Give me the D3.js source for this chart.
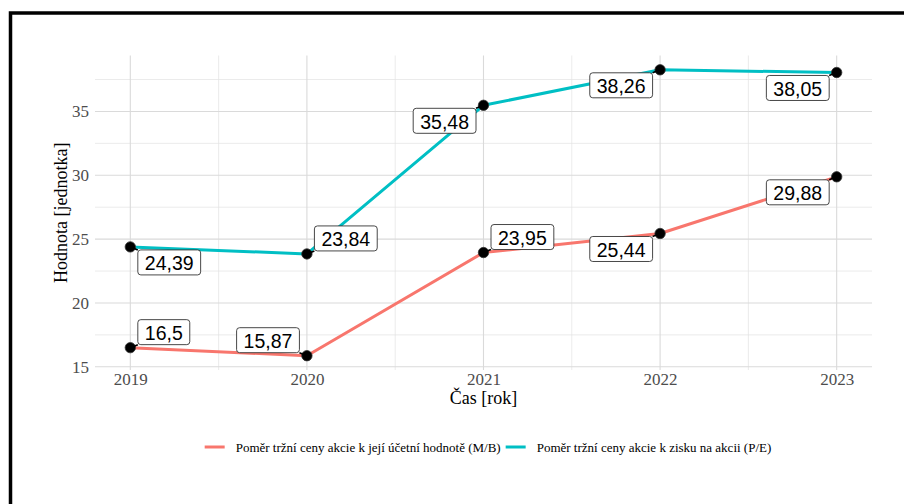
<!DOCTYPE html>
<html>
<head>
<meta charset="utf-8">
<script src="https://cdn.jsdelivr.net/npm/d3@7"></script>
<style>
  html, body { margin: 0; padding: 0; background: #fff; }
  svg { display: block; }
</style>
</head>
<body>
<svg id="chart" width="904" height="504"></svg>
<script>
// ---- data ----
const years = [2019, 2020, 2021, 2022, 2023];
const mbValues = [16.5, 15.87, 23.95, 25.44, 29.88];
const peValues = [24.39, 23.84, 35.48, 38.26, 38.05];
const seriesNames = [
  "Poměr tržní ceny akcie k její účetní hodnotě (M/B)",
  "Poměr tržní ceny akcie k zisku na akcii (P/E)"
];
const yTicks = [15, 20, 25, 30, 35];
const xTickLabels = ["2019", "2020", "2021", "2022", "2023"];
const xTitle = "Čas [rok]";
const yTitle = "Hodnota [jednotka]";

// ---- layout / style ----
const colors = ["#F8766D", "#00BFC4"];
// label placement per series/point: [horizontal sign, vertical sign]
const placement = [
  [[1, -1], [-1, -1], [1, -1], [-1, 1], [-1, 1]],
  [[1, 1], [1, -1], [-1, 1], [-1, 1], [-1, 1]]
];
const panel = { left: 95, right: 872, top: 55.5, bottom: 370 };

const svg = d3.select("#chart");

// outer border
svg.append("rect")
  .attr("x", 10.5).attr("y", 13).attr("width", 1000).attr("height", 1000)
  .attr("fill", "none").attr("stroke", "#000").attr("stroke-width", 3.5);

const x = d3.scaleLinear().domain([2018.8, 2023.2]).range([panel.left, panel.right]);
const y = d3.scaleLinear().domain([14.75, 39.38]).range([panel.bottom, panel.top]);

const grid = svg.append("g");
// minor grid
const xMinor = years.slice(0, -1).map(d => d + 0.5);
const yMinor = yTicks.map(d => d + 2.5);
grid.selectAll(".xm").data(xMinor).join("line")
  .attr("x1", d => x(d)).attr("x2", d => x(d))
  .attr("y1", panel.top).attr("y2", panel.bottom)
  .attr("stroke", "#e3e3e3").attr("stroke-width", 0.7);
grid.selectAll(".ym").data(yMinor).join("line")
  .attr("y1", d => y(d)).attr("y2", d => y(d))
  .attr("x1", panel.left).attr("x2", panel.right)
  .attr("stroke", "#e3e3e3").attr("stroke-width", 0.7);
// major grid
grid.selectAll(".xM").data(years).join("line")
  .attr("x1", d => x(d)).attr("x2", d => x(d))
  .attr("y1", panel.top).attr("y2", panel.bottom)
  .attr("stroke", "#dadada").attr("stroke-width", 1.1);
grid.selectAll(".yM").data(yTicks).join("line")
  .attr("y1", d => y(d)).attr("y2", d => y(d))
  .attr("x1", panel.left).attr("x2", panel.right)
  .attr("stroke", "#dadada").attr("stroke-width", 1.1);

// axes (labels only, via d3 axis)
const yAxis = svg.append("g")
  .attr("transform", `translate(${panel.left},0)`)
  .call(d3.axisLeft(y).tickValues(yTicks).tickSize(0).tickPadding(6).tickFormat(d3.format("d")));
yAxis.select(".domain").remove();
yAxis.selectAll("text")
  .attr("font-family", "Liberation Serif, serif").attr("font-size", 17).attr("fill", "#4d4d4d");

const xAxis = svg.append("g")
  .attr("transform", `translate(0,${panel.bottom})`)
  .call(d3.axisBottom(x).tickValues(years).tickSize(0).tickPadding(3)
    .tickFormat((d, i) => xTickLabels[i]));
xAxis.select(".domain").remove();
xAxis.selectAll("text")
  .attr("font-family", "Liberation Serif, serif").attr("font-size", 17).attr("fill", "#4d4d4d");

// titles
svg.append("text")
  .attr("x", (panel.left + panel.right) / 2).attr("y", 404)
  .attr("text-anchor", "middle")
  .attr("font-family", "Liberation Serif, serif").attr("font-size", 18).attr("fill", "#000")
  .text(xTitle);
svg.append("text")
  .attr("transform", `translate(67,${(panel.top + panel.bottom) / 2}) rotate(-90)`)
  .attr("text-anchor", "middle")
  .attr("font-family", "Liberation Serif, serif").attr("font-size", 18).attr("fill", "#000")
  .text(yTitle);

// lines
const series = [mbValues, peValues];
const lineGen = d3.line().x((d, i) => x(years[i])).y(d => y(d));
series.forEach((vals, s) => {
  svg.append("path").datum(vals)
    .attr("d", lineGen)
    .attr("fill", "none").attr("stroke", colors[s]).attr("stroke-width", 3)
    .attr("stroke-linejoin", "round");
});

// points
series.forEach((vals, s) => {
  svg.append("g").selectAll("circle").data(vals).join("circle")
    .attr("cx", (d, i) => x(years[i])).attr("cy", d => y(d)).attr("r", 5.2)
    .attr("fill", "#000").attr("stroke", "#333").attr("stroke-width", 0.8);
});

// labels
const labelG = svg.append("g");
const fmt = v => String(v).replace(".", ",");
series.forEach((vals, s) => {
  vals.forEach((v, i) => {
    const px = x(years[i]), py = y(v);
    const [sx, sy] = placement[s][i];
    const g = labelG.append("g");
    const t = g.append("text")
      .attr("font-family", "Liberation Sans, Arial, sans-serif").attr("font-size", 19.5)
      .attr("fill", "#000").attr("text-anchor", "middle")
      .attr("dominant-baseline", "central")
      .text(fmt(v));
    const tw = t.node().getComputedTextLength();
    const bw = tw + 14, bh = 25;
    const cornerX = px + sx * 7.5, cornerY = py + sy * 3;
    const bx = sx > 0 ? cornerX : cornerX - bw;
    const by = sy > 0 ? cornerY : cornerY - bh;
    g.insert("line", "text")
      .attr("x1", px).attr("y1", py).attr("x2", cornerX).attr("y2", cornerY)
      .attr("stroke", "#000").attr("stroke-width", 1.6);
    g.insert("rect", "text")
      .attr("x", bx).attr("y", by).attr("width", bw).attr("height", bh)
      .attr("rx", 3).attr("ry", 3)
      .attr("fill", "#fff").attr("stroke", "#333").attr("stroke-width", 0.9);
    t.attr("x", bx + bw / 2).attr("y", by + bh / 2 + 1);
  });
});

// legend
const leg = svg.append("g");
const keyLen = 20, keyGap = 11, itemGap = 5;
const items = seriesNames.map((name, s) => {
  const g = leg.append("g");
  g.append("line").attr("x1", 0).attr("x2", keyLen).attr("y1", 0).attr("y2", 0)
    .attr("stroke", colors[s]).attr("stroke-width", 3);
  const t = g.append("text").attr("x", keyLen + keyGap).attr("y", 0)
    .attr("dominant-baseline", "central")
    .attr("font-family", "Liberation Serif, serif").attr("font-size", 13).attr("fill", "#000")
    .text(name);
  return { g, w: keyLen + keyGap + t.node().getComputedTextLength() };
});
const totalW = d3.sum(items, d => d.w) + itemGap * (items.length - 1);
let cx = 488 - totalW / 2;
items.forEach(it => {
  it.g.attr("transform", `translate(${cx},447)`);
  cx += it.w + itemGap;
});
</script>
</body>
</html>
